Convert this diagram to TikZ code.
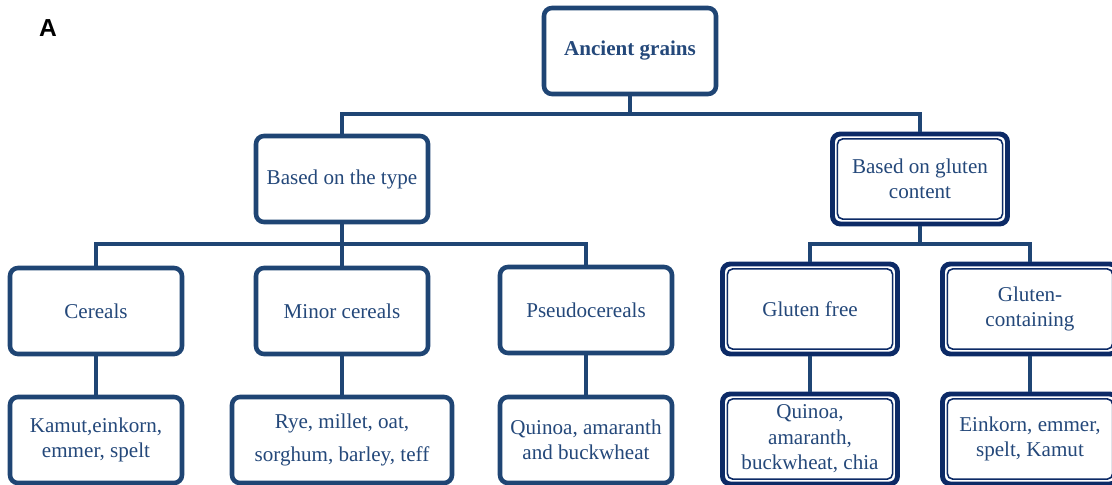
\documentclass[tikz,border=0pt]{standalone}
\usepackage{fontspec}
\setmainfont{Liberation Serif}
\newfontfamily\labelfont{Liberation Sans}
\definecolor{linec}{HTML}{1F4574}
\definecolor{navy}{HTML}{0C2A66}
\definecolor{textc}{HTML}{24487A}
\tikzset{
    box/.style={draw=linec,line width=2.6pt,rounded corners=4.5pt,fill=white,
        text=textc,align=center,font=\fontsize{12}{14.5}\selectfont,
        minimum width=3.44cm,minimum height=1.72cm,inner sep=2pt},
    dbox/.style={box,draw=navy,line width=2.8pt,minimum width=3.5cm,minimum height=1.8cm},
    link/.style={draw=linec,line width=2.6pt}
}

\begin{document}
\begin{tikzpicture}
    \useasboundingbox (0,0) rectangle (22.24,-9.7);
    \node[font=\labelfont\bfseries\fontsize{14}{16}\selectfont] (lab) at (0.96,-0.56) {A};

    \node[box,font=\bfseries\fontsize{12}{14.5}\selectfont] (top) at (12.6,-1.02) {Ancient grains};
    \node[box] (type) at (6.84,-3.58) {Based on the type};
    \node[dbox] (glu) at (18.4,-3.58) {Based on gluten\\content};

    \node[box] (cer) at (1.92,-6.22) {Cereals};
    \node[box] (mcer) at (6.84,-6.22) {Minor cereals};
    \node[box] (pcer) at (11.72,-6.2) {Pseudocereals};
    \node[dbox] (gfree) at (16.2,-6.18) {Gluten free};
    \node[dbox] (gcont) at (20.6,-6.18) {Gluten-\\containing};

    \node[box] (cerx) at (1.92,-8.8) {Kamut,einkorn,\\emmer, spelt};
    \node[box,minimum width=4.4cm,font=\fontsize{12}{19}\selectfont] (mcerx) at (6.84,-8.8) {Rye, millet, oat,\\sorghum, barley, teff};
    \node[box] (pcerx) at (11.72,-8.8) {Quinoa, amaranth\\and buckwheat};
    \node[dbox] (gfreex) at (16.2,-8.78) {Quinoa,\\amaranth,\\buckwheat, chia};
    \node[dbox] (gcontx) at (20.6,-8.78) {Einkorn, emmer,\\spelt, Kamut};

    % inner thin line of the double boxes
    \foreach \n in {glu,gfree,gcont,gfreex,gcontx}
        \draw[navy,line width=0.9pt,rounded corners=3pt]
            ([shift={(4.2pt,-4.2pt)}]\n.north west) rectangle ([shift={(-4.2pt,4.2pt)}]\n.south east);

    \coordinate (b1) at (12.6,-2.28);
    \coordinate (b2) at (6.84,-4.88);
    \coordinate (b3) at (18.4,-4.88);

    \draw[link] (top.south) -- (b1) -| (type.north);
    \draw[link] (b1) -| (glu.north);
    \draw[link] (type.south) -- (b2) -| (cer.north);
    \draw[link] (b2) -| (pcer.north);
    \draw[link] (b2) -- (mcer.north);
    \draw[link] (glu.south) -- (b3) -| (gfree.north);
    \draw[link] (b3) -| (gcont.north);
    \draw[link] (cer) -- (cerx);
    \draw[link] (mcer) -- (mcerx);
    \draw[link] (pcer) -- (pcerx);
    \draw[link] (gfree) -- (gfreex);
    \draw[link] (gcont) -- (gcontx);
\end{tikzpicture}
\end{document}
